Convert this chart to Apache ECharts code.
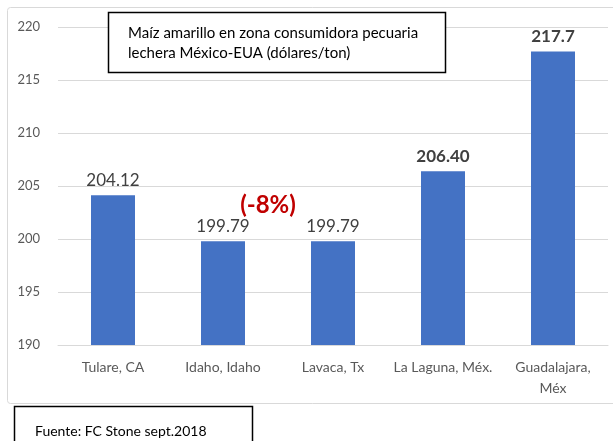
<!DOCTYPE html>
<html>
<head>
<meta charset="utf-8">
<script src="https://cdn.jsdelivr.net/npm/echarts@6/dist/echarts.min.js"></script>
<style>
  html, body { margin: 0; padding: 0; background: #fff; }
  #chart { width: 613px; height: 441px; }
</style>
</head>
<body>
<div id="chart"></div>
<script>
const categories = ['Tulare, CA', 'Idaho, Idaho', 'Lavaca, Tx', 'La Laguna, Méx.', 'Guadalajara,\nMéx'];
const values = [204.12, 199.79, 199.79, 206.40, 217.7];
const labelTexts = ['204.12', '199.79', '199.79', '206.40', '217.7'];
const boldLabels = [false, false, false, true, true];
const title = 'Maíz amarillo en zona consumidora pecuaria\nlechera México-EUA (dólares/ton)';
const source = 'Fuente: FC Stone sept.2018';
const note = '(-8%)';

const font = 'Lato, "Open Sans", sans-serif';

const myChart = echarts.init(document.getElementById('chart'));
const option = {
    animation: false,
    grid: {left: 58, right: 5, top: 27, bottom: 96},
    xAxis: {
        type: 'category',
        data: categories,
        axisLine: {lineStyle: {color: '#d9d9d9'}},
        axisTick: {show: false},
        axisLabel: {interval: 0, color: '#595959', fontSize: 14, fontFamily: font, margin: 12, lineHeight: 21}
    },
    yAxis: {
        type: 'value', min: 190, max: 220, interval: 5,
        axisLine: {show: false},
        axisTick: {show: false},
        axisLabel: {color: '#595959', fontSize: 13, fontFamily: font, margin: 18},
        splitLine: {lineStyle: {color: '#d9d9d9'}}
    },
    series: [{
        type: 'bar',
        barWidth: '40%',
        itemStyle: {color: '#4472C4'},
        data: values.map((v, i) => ({
            value: v,
            label: {
                show: true, position: 'top', distance: 6,
                formatter: labelTexts[i],
                color: '#404040', fontSize: 17, fontFamily: font,
                fontWeight: boldLabels[i] ? 'bold' : 'normal'
            }
        }))
    }],
    graphic: [
        {type: 'rect', shape: {x: 7.5, y: 7.5, width: 620, height: 396, r: 3},
         style: {fill: 'none', stroke: '#d9d9d9', lineWidth: 1}, z: 0},
        {type: 'rect', shape: {x: 108.5, y: 12.5, width: 337, height: 60},
         style: {fill: '#fff', stroke: '#000', lineWidth: 1.5}, z: 10},
        {type: 'text', x: 128, y: 23, z: 11,
         style: {text: title, fill: '#000', fontSize: 15, fontFamily: font, lineHeight: 20}},
        {type: 'rect', shape: {x: 14.5, y: 406.5, width: 238, height: 40},
         style: {fill: '#fff', stroke: '#000', lineWidth: 1.5}, z: 10},
        {type: 'text', x: 35, y: 424, z: 11,
         style: {text: source, fill: '#000', fontSize: 14, fontFamily: font}},
        {type: 'text', x: 268, y: 205, z: 11,
         style: {text: note, fill: '#C00000', fontSize: 24, fontWeight: 'bold', fontFamily: font,
                 align: 'center', verticalAlign: 'middle'}}
    ]
};
myChart.setOption(option);
</script>
</body>
</html>
